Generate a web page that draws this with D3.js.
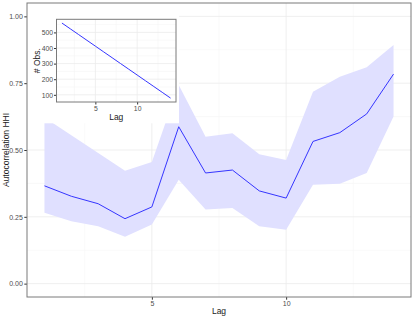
<!DOCTYPE html>
<html>
<head>
<meta charset="utf-8">
<script src="https://cdn.jsdelivr.net/npm/d3@7"></script>
<style>
  body { margin: 0; background: #fff; }
  svg { display: block; font-family: "Liberation Sans", Arial, sans-serif; }
  .grid-major line { stroke: #ebebeb; stroke-width: 0.8; }
  .grid-minor line { stroke: #f5f5f5; stroke-width: 0.6; }
  .tick text { fill: #4d4d4d; }
  .tick line { stroke: #333; }
</style>
</head>
<body>
<script>
// autocorrelation of HHI by lag, with confidence band
var lags = [1, 2, 3, 4, 5, 6, 7, 8, 9, 10, 11, 12, 13, 14];
var acfHHI = [0.366, 0.327, 0.299, 0.243, 0.287, 0.587, 0.414, 0.425, 0.347, 0.320, 0.532, 0.565, 0.635, 0.784];
var bandUpper = [0.622, 0.555, 0.489, 0.422, 0.455, 0.743, 0.550, 0.563, 0.484, 0.463, 0.718, 0.774, 0.810, 0.893];
var bandLower = [0.265, 0.233, 0.215, 0.175, 0.221, 0.389, 0.277, 0.283, 0.215, 0.202, 0.370, 0.374, 0.414, 0.625];
// number of observations per lag (inset)
var nObs = [560, 523, 486, 449, 412, 375, 338, 301, 264, 227, 190, 153, 116, 79];

var yTicks = [0, 0.25, 0.5, 0.75, 1];
var yMinor = [0.125, 0.375, 0.625, 0.875];
var xTicks = [5, 10];
var xMinor = [2.5, 7.5, 12.5];
var insetYTicks = [100, 200, 300, 400, 500];
var insetYMinor = [150, 250, 350, 450, 550];

var width = 415, height = 318;
var margin = {top: 3, right: 4, bottom: 21, left: 27};

var svg = d3.select("body").append("svg")
    .attr("width", width)
    .attr("height", height);

var x = d3.scaleLinear().domain([0.35, 14.65]).range([margin.left, width - margin.right]);
var y = d3.scaleLinear().domain([-0.05, 1.05]).range([height - margin.bottom, margin.top]);

// panel grid
var g = svg.append("g");
g.append("g").attr("class", "grid-minor").selectAll("line")
    .data(yMinor).enter().append("line")
    .attr("x1", x.range()[0]).attr("x2", x.range()[1])
    .attr("y1", y).attr("y2", y);
g.append("g").attr("class", "grid-minor").selectAll("line")
    .data(xMinor).enter().append("line")
    .attr("y1", y.range()[0]).attr("y2", y.range()[1])
    .attr("x1", x).attr("x2", x);
g.append("g").attr("class", "grid-major").selectAll("line")
    .data(yTicks).enter().append("line")
    .attr("x1", x.range()[0]).attr("x2", x.range()[1])
    .attr("y1", y).attr("y2", y);
g.append("g").attr("class", "grid-major").selectAll("line")
    .data(xTicks).enter().append("line")
    .attr("y1", y.range()[0]).attr("y2", y.range()[1])
    .attr("x1", x).attr("x2", x);

// ribbon + line
var area = d3.area()
    .x(function(d, i) { return x(lags[i]); })
    .y0(function(d, i) { return y(bandLower[i]); })
    .y1(function(d, i) { return y(bandUpper[i]); });
g.append("path")
    .datum(lags)
    .attr("fill", "#e0e0ff")
    .attr("d", area);

var line = d3.line()
    .x(function(d, i) { return x(lags[i]); })
    .y(function(d) { return y(d); });
g.append("path")
    .datum(acfHHI)
    .attr("fill", "none")
    .attr("stroke", "#3535ff")
    .attr("stroke-width", 1)
    .attr("d", line);

// axes
var yAxis = svg.append("g")
    .attr("transform", "translate(" + margin.left + ",0)")
    .call(d3.axisLeft(y).tickValues(yTicks).tickFormat(d3.format(".2f")).tickSize(2.7).tickPadding(1.5));
var xAxis = svg.append("g")
    .attr("transform", "translate(0," + (height - margin.bottom) + ")")
    .call(d3.axisBottom(x).tickValues(xTicks).tickSize(2.7).tickPadding(1.5));
[yAxis, xAxis].forEach(function(a) {
    a.select(".domain").remove();
    a.selectAll("text").attr("font-size", 7).attr("font-family", "Liberation Sans, Arial, sans-serif");
});

svg.append("text")
    .attr("x", (x.range()[0] + x.range()[1]) / 2)
    .attr("y", 314)
    .attr("text-anchor", "middle")
    .attr("font-size", 8.5)
    .attr("fill", "#1a1a1a")
    .text("Lag");
svg.append("text")
    .attr("transform", "translate(9," + ((y.range()[0] + y.range()[1]) / 2) + ") rotate(-90)")
    .attr("text-anchor", "middle")
    .attr("font-size", 8.5)
    .attr("fill", "#1a1a1a")
    .text("Autocorrelation HHI");

// ---- inset: number of observations by lag ----
var inset = svg.append("g");
inset.append("rect")
    .attr("x", margin.left).attr("y", margin.top)
    .attr("width", 179 - margin.left).attr("height", 123.3 - margin.top)
    .attr("fill", "#fff");

var ix = d3.scaleLinear().domain([0.35, 14.65]).range([56.5, 176]);
var iy = d3.scaleLinear().domain([54, 584]).range([102, 19.3]);

inset.append("g").attr("class", "grid-minor").selectAll("line")
    .data(insetYMinor).enter().append("line")
    .attr("x1", ix.range()[0]).attr("x2", ix.range()[1])
    .attr("y1", iy).attr("y2", iy);
inset.append("g").attr("class", "grid-minor").selectAll("line")
    .data(xMinor).enter().append("line")
    .attr("y1", iy.range()[0]).attr("y2", iy.range()[1])
    .attr("x1", ix).attr("x2", ix);
inset.append("g").attr("class", "grid-major").selectAll("line")
    .data(insetYTicks).enter().append("line")
    .attr("x1", ix.range()[0]).attr("x2", ix.range()[1])
    .attr("y1", iy).attr("y2", iy);
inset.append("g").attr("class", "grid-major").selectAll("line")
    .data(xTicks).enter().append("line")
    .attr("y1", iy.range()[0]).attr("y2", iy.range()[1])
    .attr("x1", ix).attr("x2", ix);

inset.append("path")
    .datum(nObs)
    .attr("fill", "none")
    .attr("stroke", "#3535ff")
    .attr("stroke-width", 1)
    .attr("d", d3.line()
        .x(function(d, i) { return ix(lags[i]); })
        .y(function(d) { return iy(d); }));

var iyAxis = inset.append("g")
    .attr("transform", "translate(" + ix.range()[0] + ",0)")
    .call(d3.axisLeft(iy).tickValues(insetYTicks).tickSize(2.5).tickPadding(1));
var ixAxis = inset.append("g")
    .attr("transform", "translate(0," + iy.range()[0] + ")")
    .call(d3.axisBottom(ix).tickValues(xTicks).tickSize(2.5).tickPadding(1.5));
[iyAxis, ixAxis].forEach(function(a) {
    a.select(".domain").remove();
    a.selectAll("text").attr("font-size", 6.8).attr("font-family", "Liberation Sans, Arial, sans-serif");
});

inset.append("rect")
    .attr("x", ix.range()[0]).attr("y", iy.range()[1])
    .attr("width", ix.range()[1] - ix.range()[0])
    .attr("height", iy.range()[0] - iy.range()[1])
    .attr("fill", "none")
    .attr("stroke", "#7a7a7a")
    .attr("stroke-width", 1);

inset.append("text")
    .attr("x", (ix.range()[0] + ix.range()[1]) / 2)
    .attr("y", 119.5)
    .attr("text-anchor", "middle")
    .attr("font-size", 8.5)
    .attr("fill", "#1a1a1a")
    .text("Lag");
inset.append("text")
    .attr("transform", "translate(39.5," + ((iy.range()[0] + iy.range()[1]) / 2) + ") rotate(-90)")
    .attr("text-anchor", "middle")
    .attr("font-size", 8.5)
    .attr("fill", "#1a1a1a")
    .text("# Obs.");

// main panel border on top
svg.append("rect")
    .attr("x", x.range()[0]).attr("y", y.range()[1])
    .attr("width", x.range()[1] - x.range()[0])
    .attr("height", y.range()[0] - y.range()[1])
    .attr("fill", "none")
    .attr("stroke", "#7a7a7a")
    .attr("stroke-width", 1);
</script>
</body>
</html>
